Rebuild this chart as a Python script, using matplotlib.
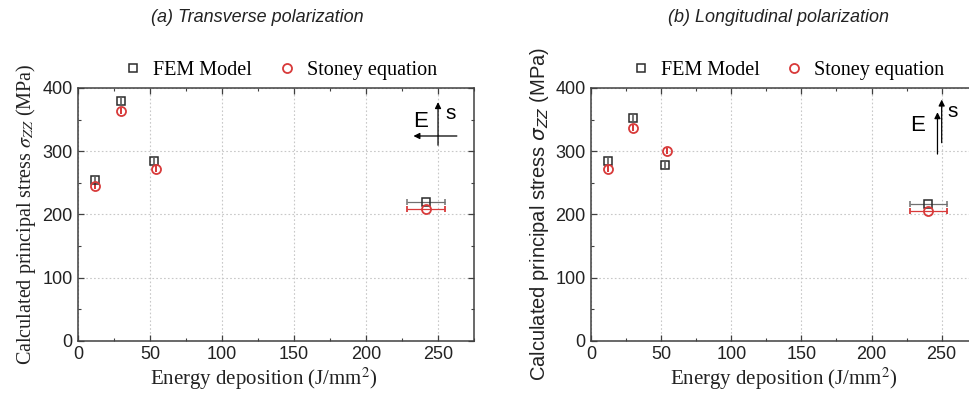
import matplotlib
matplotlib.use("Agg")
import matplotlib.pyplot as plt
from matplotlib.lines import Line2D
from matplotlib.ticker import MultipleLocator

# --- data ------------------------------------------------------------------
energy_fem_a = [12, 30, 53, 241.5]
stress_fem_a = [255, 380, 284, 220]
energy_stoney_a = [12, 30, 54, 241.5]
stress_stoney_a = [245, 363, 271, 209]
xerr_a = [0, 0, 0, 13]

energy_fem_b = [12, 30, 53, 240.5]
stress_fem_b = [285, 353, 278, 216]
energy_stoney_b = [12, 30, 54, 240.5]
stress_stoney_b = [272, 337, 300, 206]
xerr_b = [0, 0, 0, 13]

titles = ["(a) Transverse polarization", "(b) Longitudinal polarization"]

FEM_COLOR = "#2b2b2b"
STONEY_COLOR = "#d83a3a"
SANS = "Liberation Sans"
SERIF = "Liberation Serif"

fig = plt.figure(figsize=(9.69, 3.94), dpi=100)
ax_a = fig.add_axes([0.0805, 0.1353, 0.4087, 0.6414])
ax_b = fig.add_axes([0.6099, 0.1353, 0.3981, 0.6414])


def draw_panel(ax, ex_f, sy_f, ex_s, sy_s, xerr, label_family, math_family):
    ax.errorbar(ex_f, sy_f, xerr=xerr, fmt="s", ms=5.5, mfc="none", mec=FEM_COLOR,
                mew=1.1, ecolor="#707070", elinewidth=0.9, capsize=2.5, zorder=3)
    ax.errorbar(ex_s, sy_s, xerr=xerr, fmt="o", ms=6.5, mfc="none", mec=STONEY_COLOR,
                mew=1.3, ecolor=STONEY_COLOR, elinewidth=0.9, capsize=2.5, zorder=3)
    ax.set_xlim(0, 275)
    ax.set_ylim(0, 400)
    ax.xaxis.set_major_locator(MultipleLocator(50))
    ax.xaxis.set_minor_locator(MultipleLocator(25))
    ax.yaxis.set_major_locator(MultipleLocator(100))
    ax.yaxis.set_minor_locator(MultipleLocator(50))
    ax.tick_params(which="both", direction="in", top=True, right=True,
                   color="#404040", labelsize=13, labelcolor="#222222")
    ax.tick_params(which="major", length=4, width=0.9, pad=4)
    ax.tick_params(which="minor", length=2.5, width=0.8)
    for lab in ax.get_xticklabels() + ax.get_yticklabels():
        lab.set_fontfamily(SANS)
    ax.grid(which="major", linestyle=(0, (1.5, 2)), color="#c8c8c8", linewidth=0.8)
    ax.set_axisbelow(True)
    for sp in ax.spines.values():
        sp.set_color("#404040")
        sp.set_linewidth(1.1)
    ax.set_xlabel(r"Energy deposition (J/mm$^2$)", family=SERIF, fontsize=15,
                  math_fontfamily="stix", color="#222222", labelpad=2)
    ax.set_ylabel(r"Calculated principal stress $\sigma_{ZZ}$ (MPa)",
                  family=label_family, fontsize=14.5, math_fontfamily=math_family,
                  color="#222222", labelpad=3)
    handles = [
        Line2D([], [], ls="none", marker="s", ms=5.5, mfc="none", mec=FEM_COLOR,
               mew=1.1, label="FEM Model"),
        Line2D([], [], ls="none", marker="o", ms=6.5, mfc="none", mec=STONEY_COLOR,
               mew=1.3, label="Stoney equation"),
    ]
    ax.legend(handles=handles, loc="lower center", bbox_to_anchor=(0.51, 0.99),
              ncol=2, frameon=False, prop={"family": SERIF, "size": 14.5},
              handletextpad=0.5, columnspacing=1.2, handlelength=1.0,
              borderaxespad=0.1)


draw_panel(ax_a, energy_fem_a, stress_fem_a, energy_stoney_a, stress_stoney_a,
           xerr_a, SERIF, "stix")
draw_panel(ax_b, energy_fem_b, stress_fem_b, energy_stoney_b, stress_stoney_b,
           xerr_b, SANS, "dejavusans")
ax_a.xaxis.label.set_x(0.47)

# polarization sketches (E field / s direction)
arrow = dict(arrowstyle="-|>", color="black", lw=0.9, mutation_scale=9)
ax_a.annotate("", xy=(250, 382), xytext=(250, 305), arrowprops=arrow)
ax_a.annotate("", xy=(231, 324), xytext=(265, 324), arrowprops=arrow)
ax_a.text(238, 347, "E", family=SANS, fontsize=16, ha="center", va="center")
ax_a.text(259, 360, "s", family=SANS, fontsize=15, ha="center", va="center")

ax_b.annotate("", xy=(247, 366), xytext=(247, 291), arrowprops=arrow)
ax_b.annotate("", xy=(250, 386), xytext=(250, 309), arrowprops=arrow)
ax_b.text(233, 340, "E", family=SANS, fontsize=16, ha="center", va="center")
ax_b.text(258, 362, "s", family=SANS, fontsize=15, ha="center", va="center")

fig.text(257.5 / 969, 1 - 17 / 394, titles[0], family=SANS, style="italic",
         fontsize=13, ha="center", va="center", color="#222222")
fig.text(779 / 969, 1 - 17 / 394, titles[1], family=SANS, style="italic",
         fontsize=13, ha="center", va="center", color="#222222")

fig.savefig("out.png", dpi=100)
